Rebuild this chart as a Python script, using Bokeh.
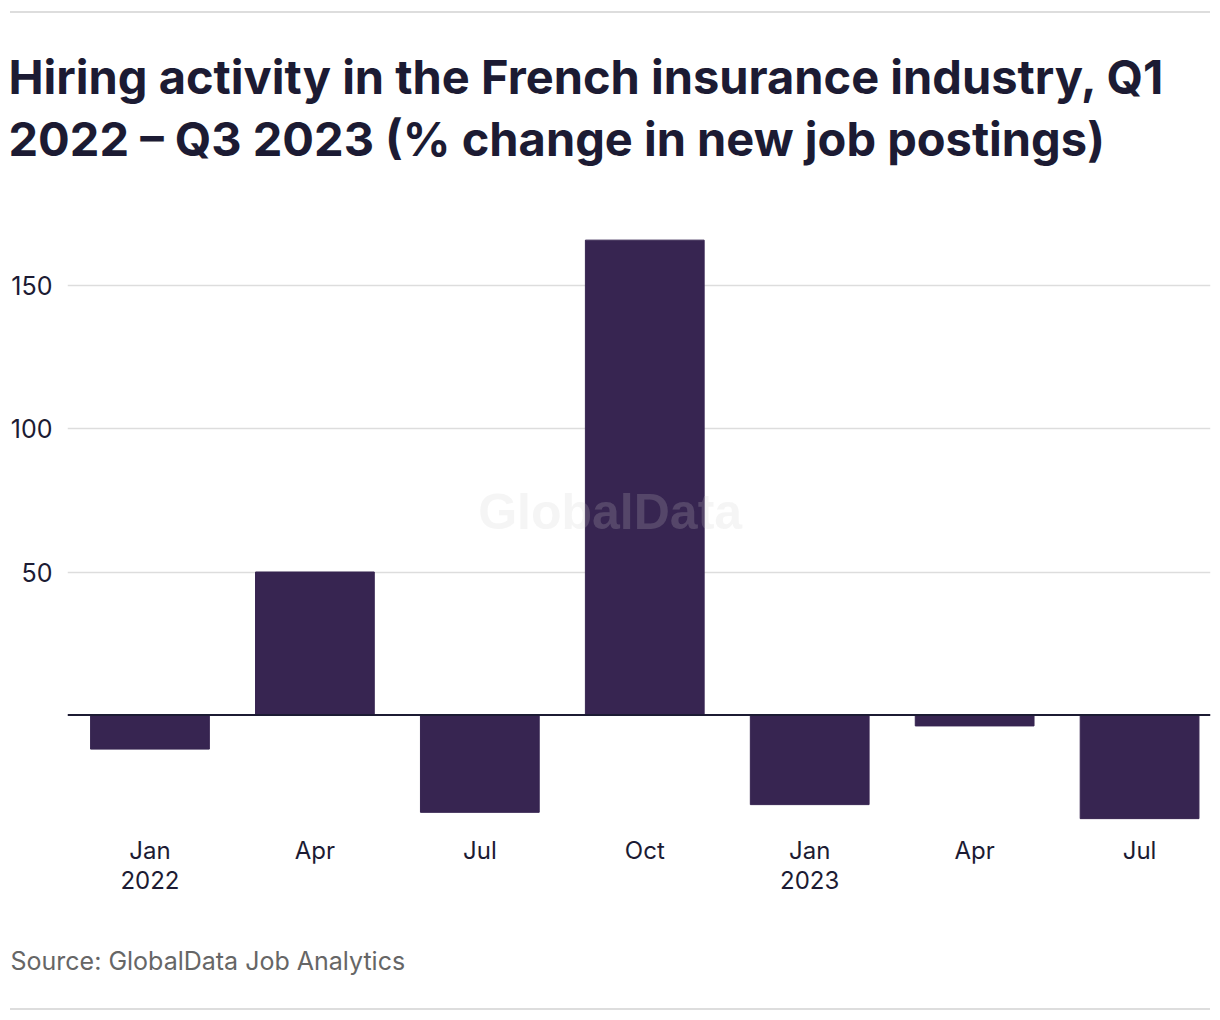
from bokeh.plotting import figure
from bokeh.models import Title, FixedTicker, Range1d, Label, Div, Span
from bokeh.layouts import column
from bokeh.embed import file_html
from bokeh.resources import INLINE

# ---- data ----
quarters = ["Q1 2022", "Q2 2022", "Q3 2022", "Q4 2022", "Q1 2023", "Q2 2023", "Q3 2023"]
tick_labels = ["Jan\n2022", "Apr", "Jul", "Oct", "Jan\n2023", "Apr", "Jul"]
pct_change = [-11.9, 50.0, -34.0, 166.0, -31.3, -3.8, -36.2]
y_ticks = [50, 100, 150]

TITLE = "Hiring activity in the French insurance industry, Q1\n2022 \u2013 Q3 2023 (% change in new job postings)"
SOURCE = "Source: GlobalData Job Analytics"

DARK = "#1c1b33"
BAR = "#372551"
FONT = "Inter"

xs = list(range(len(quarters)))

p = figure(width=1212, height=994,
           x_range=Range1d(-0.5, 6.43), y_range=Range1d(-40, 183),
           output_backend="svg", toolbar_location=None,
           min_border_left=67, min_border_right=2,
           min_border_top=178, min_border_bottom=178)

p.title = Title(text=TITLE, text_font=FONT, text_font_size="47px",
                text_font_style="bold", text_color=DARK,
                text_line_height=1.1, standoff=48, offset=-59)

p.vbar(x=xs, top=pct_change, bottom=0, width=0.72, color=BAR)

p.add_layout(Span(location=0, dimension="width", line_color=DARK, line_width=2))

p.add_layout(Label(x=2.79, y=71, text="GlobalData", text_align="center",
                   text_baseline="middle", text_font="Liberation Sans",
                   text_font_style="bold", text_font_size="50px",
                   text_color="#cdcdcd", text_alpha=0.2))

p.outline_line_color = None
p.xgrid.grid_line_color = None
p.ygrid.ticker = FixedTicker(ticks=y_ticks)
p.ygrid.grid_line_color = "#dddddd"
p.ygrid.grid_line_width = 1.5

p.yaxis.ticker = FixedTicker(ticks=y_ticks)
p.yaxis.axis_line_color = None
p.yaxis.major_tick_line_color = None
p.yaxis.minor_tick_line_color = None
p.yaxis.major_label_text_font = FONT
p.yaxis.major_label_text_font_size = "25px"
p.yaxis.major_label_text_color = DARK
p.yaxis.major_label_standoff = 9

p.xaxis.ticker = FixedTicker(ticks=xs)
p.xaxis.major_label_overrides = {x: lab for x, lab in zip(xs, tick_labels)}
p.xaxis.axis_line_color = None
p.xaxis.major_tick_line_color = None
p.xaxis.minor_tick_line_color = None
p.xaxis.major_label_text_font = FONT
p.xaxis.major_label_text_font_size = "24px"
p.xaxis.major_label_text_line_height = 1.06
p.xaxis.major_label_text_color = DARK
p.xaxis.major_label_standoff = 0

# spacer between axis labels and source line
p.add_layout(Title(text=" ", text_font_size="10px", standoff=27), "below")
p.add_layout(Title(text=SOURCE, text_font=FONT, text_font_size="25px",
                   text_color="#666666", text_font_style="normal",
                   standoff=10, offset=-57), "below")

top_rule = Div(text="", width=1200, height=2, margin=(11, 0, 0, 10),
               styles={"background-color": "#dddddd"})
bottom_rule = Div(text="", width=1200, height=2, margin=(1, 0, 0, 10),
                  styles={"background-color": "#dddddd"})

layout = column(top_rule, p, bottom_rule, spacing=0)

open("out.html", "w").write(file_html(layout, INLINE))
